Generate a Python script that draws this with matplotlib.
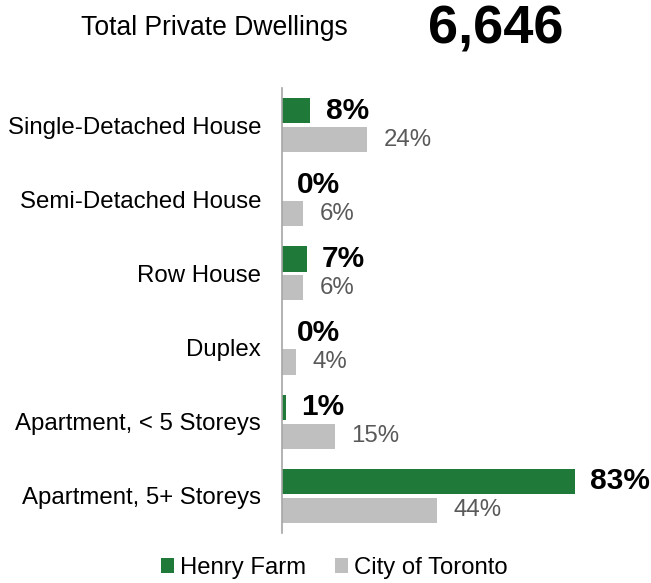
import matplotlib
matplotlib.use("Agg")
import matplotlib.pyplot as plt
from matplotlib.patches import Patch
import numpy as np

plt.rcParams['font.family'] = ['Liberation Sans', 'DejaVu Sans']

categories = ["Single-Detached House", "Semi-Detached House", "Row House",
              "Duplex", "Apartment, < 5 Storeys", "Apartment, 5+ Storeys"]
henry_farm = [8, 0, 7, 0, 1, 83]
toronto = [24, 6, 6, 4, 15, 44]
series_names = ["Henry Farm", "City of Toronto"]
title_text = "Total Private Dwellings"
total_value = "6,646"

green = "#1F7A3A"
grey = "#BFBFBF"

fig = plt.figure(figsize=(6.51, 5.83), dpi=100)
ax = fig.add_axes([282/651, 1-533/583, 353/651, 445/583])

y = np.arange(len(categories))
off = 0.195
h = 0.34
ax.barh(y - off, henry_farm, height=h, color=green)
ax.barh(y + off, toronto, height=h, color=grey)

for yi, v in zip(y, henry_farm):
    ax.annotate(f"{v}%", (v, yi - off), xytext=(11, 0), textcoords="offset points",
                va="center", ha="left", fontsize=21.5, fontweight="bold", color="black")
for yi, v in zip(y, toronto):
    ax.annotate(f"{v}%", (v, yi + off), xytext=(12, 0), textcoords="offset points",
                va="center", ha="left", fontsize=17.3, color="#595959")

ax.set_xlim(0, 100)
ax.set_ylim(len(categories) - 0.5, -0.5)
ax.set_yticks(y)
ax.set_yticklabels(categories, fontsize=17.3)
ax.tick_params(axis="y", length=0, pad=15)
ax.set_xticks([])
for s in ["top", "right", "bottom"]:
    ax.spines[s].set_visible(False)
ax.spines["left"].set_color("#A6A6A6")
ax.spines["left"].set_linewidth(1.2)

fig.text(214.5/651, 1-28/583, title_text, ha="center", va="center", fontsize=19.1)
fig.text(496/651, 1-30/583, total_value, ha="center", va="center", fontsize=39, fontweight="bold")

handles = [Patch(facecolor=green, edgecolor="none"), Patch(facecolor=grey, edgecolor="none")]
fig.legend(handles, series_names, loc="center", bbox_to_anchor=(334/651, 1-568/583),
           ncol=2, frameon=False, fontsize=17.2, handlelength=0.55, handleheight=0.55,
           handletextpad=0.25, columnspacing=1.2, borderpad=0)

fig.savefig("out.png", dpi=100)
